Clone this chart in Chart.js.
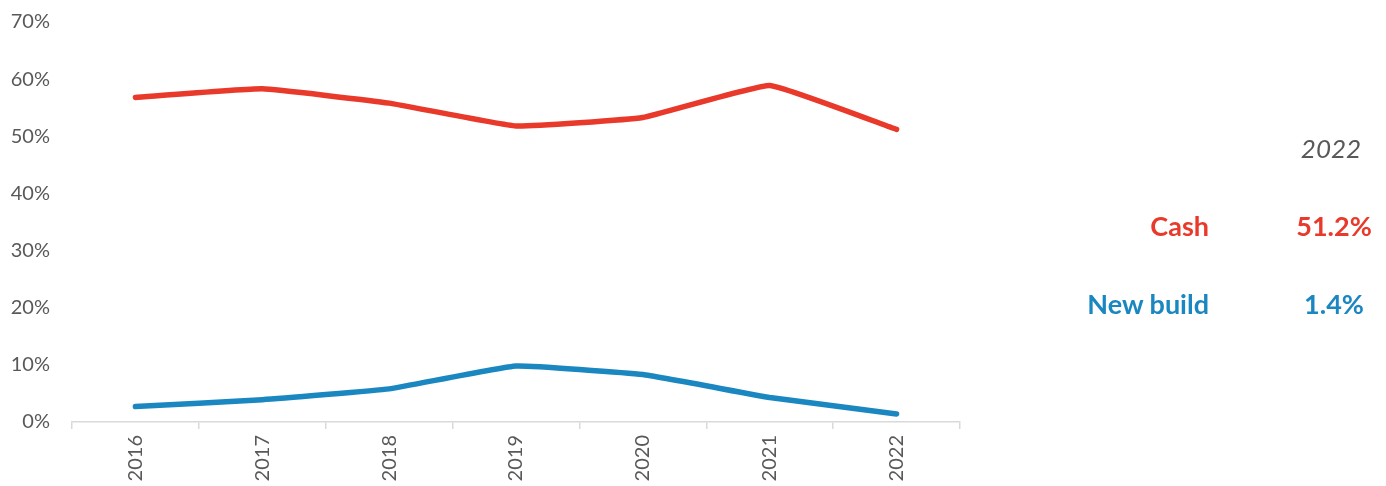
<!DOCTYPE html>
<html>
<head>
<meta charset="utf-8">
<script src="https://cdn.jsdelivr.net/npm/chart.js@4"></script>
<style>
  html, body { margin: 0; padding: 0; background: #fff; }
  #wrap { position: relative; width: 1386px; height: 486px; }
  canvas { position: absolute; left: 0; top: 0; }
  .t { position: absolute; font-family: Lato, "Open Sans", sans-serif; white-space: nowrap; line-height: 1; }
</style>
</head>
<body>
<div id="wrap">
  <canvas id="c" width="1386" height="486"></canvas>
  <div class="t" id="yr" style="left:1281px; width:100px; top:135px; text-align:center; font-size:26px; font-style:italic; color:#595959;"></div>
  <div class="t" id="l0" style="right:177px; top:212px; font-size:27px; font-weight:bold; color:#E8392A;"></div>
  <div class="t" id="v0" style="left:1284px; width:100px; top:212px; text-align:center; font-size:27px; font-weight:bold; color:#E8392A;"></div>
  <div class="t" id="l1" style="right:177px; top:290px; font-size:27px; font-weight:bold; color:#1B87C0;"></div>
  <div class="t" id="v1" style="left:1284px; width:100px; top:290px; text-align:center; font-size:27px; font-weight:bold; color:#1B87C0;"></div>
</div>
<script>
const years = ['2016','2017','2018','2019','2020','2021','2022'];
const seriesNames = ['Cash','New build'];
const cash = [56.8, 58.3, 55.8, 51.8, 53.3, 58.9, 51.2];
const newBuild = [2.7, 3.9, 5.8, 9.8, 8.3, 4.3, 1.4];
const yTicks = [0, 10, 20, 30, 40, 50, 60, 70];
const colors = ['#E8392A', '#1B87C0'];

document.getElementById('yr').textContent = years[years.length - 1];
document.getElementById('l0').textContent = seriesNames[0];
document.getElementById('v0').textContent = cash[cash.length - 1].toFixed(1) + '%';
document.getElementById('l1').textContent = seriesNames[1];
document.getElementById('v1').textContent = newBuild[newBuild.length - 1].toFixed(1) + '%';

new Chart(document.getElementById('c'), {
  type: 'line',
  data: {
    labels: years,
    datasets: [
      { label: seriesNames[0], data: cash, borderColor: colors[0], backgroundColor: colors[0], borderWidth: 5.5, pointRadius: 0, tension: 0.1, borderCapStyle: 'round', borderJoinStyle: 'round' },
      { label: seriesNames[1], data: newBuild, borderColor: colors[1], backgroundColor: colors[1], borderWidth: 5.5, pointRadius: 0, tension: 0.1, borderCapStyle: 'round', borderJoinStyle: 'round' }
    ]
  },
  options: {
    responsive: false,
    animation: false,
    layout: { padding: { top: 22, right: 426, left: 0, bottom: 0 } },
    plugins: { legend: { display: false }, tooltip: { enabled: false } },
    scales: {
      x: {
        offset: true,
        grid: { offset: true, drawOnChartArea: false, drawTicks: true, tickLength: 7, color: '#D9D9D9', lineWidth: 1.5 },
        border: { display: true, color: '#D9D9D9', width: 1.5 },
        ticks: { maxRotation: 90, minRotation: 90, color: '#595959', font: { family: 'Lato, "Open Sans", sans-serif', size: 20 }, padding: 6 },
        afterFit: (s) => { s.height = 64; s.paddingTop = 0; s.paddingLeft = 0; s.paddingRight = 0; }
      },
      y: {
        min: 0, max: 70,
        afterBuildTicks: (s) => { s.ticks = yTicks.map(v => ({ value: v })); },
        grid: { display: false, drawTicks: false },
        border: { display: false },
        ticks: { color: '#595959', font: { family: 'Lato, "Open Sans", sans-serif', size: 20 }, padding: 22, callback: v => v + '%' },
        afterFit: (s) => { s.width = 72; s.paddingTop = 0; s.paddingBottom = 0; }
      }
    }
  }
});
</script>
</body>
</html>
